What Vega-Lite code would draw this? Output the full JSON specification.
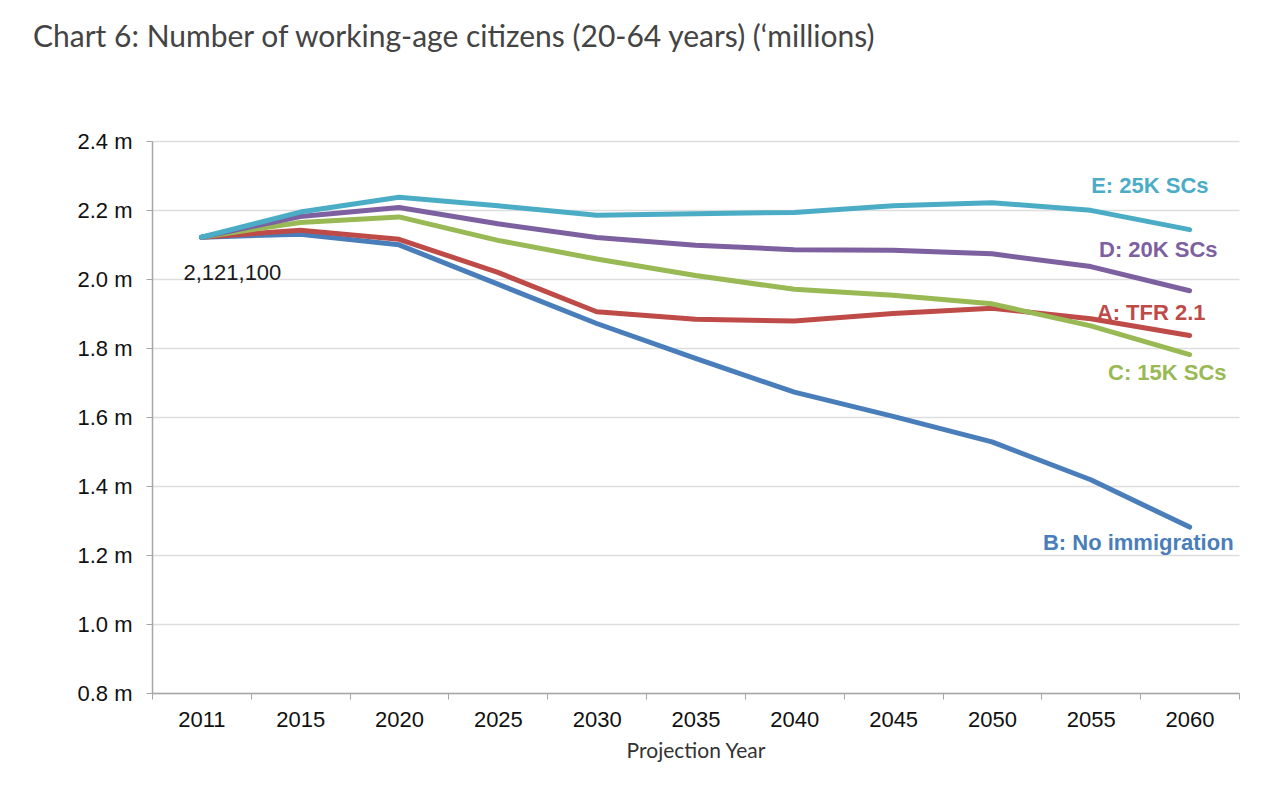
{
  "$schema": "https://vega.github.io/schema/vega-lite/v6.json",
  "width": 1087,
  "height": 552,
  "autosize": {"type": "none"},
  "padding": {"left": 152, "top": 141, "right": 40, "bottom": 97},
  "background": "white",
  "title": {
    "text": "Chart 6: Number of working-age citizens (20-64 years) (‘millions)",
    "font": "Lato",
    "fontSize": 30,
    "fontWeight": "normal",
    "color": "#444444",
    "anchor": "start",
    "frame": "group",
    "dx": -119,
    "baseline": "alphabetic",
    "offset": 53
  },
  "data": {
    "values": [
      {"year": "2011", "series": "B: No immigration", "value": 2121100},
      {"year": "2015", "series": "B: No immigration", "value": 2130000},
      {"year": "2020", "series": "B: No immigration", "value": 2099000},
      {"year": "2025", "series": "B: No immigration", "value": 1985000},
      {"year": "2030", "series": "B: No immigration", "value": 1871000},
      {"year": "2035", "series": "B: No immigration", "value": 1770000},
      {"year": "2040", "series": "B: No immigration", "value": 1672000},
      {"year": "2045", "series": "B: No immigration", "value": 1602000},
      {"year": "2050", "series": "B: No immigration", "value": 1528000},
      {"year": "2055", "series": "B: No immigration", "value": 1418000},
      {"year": "2060", "series": "B: No immigration", "value": 1281000},
      {"year": "2011", "series": "A: TFR 2.1", "value": 2121100},
      {"year": "2015", "series": "A: TFR 2.1", "value": 2141000},
      {"year": "2020", "series": "A: TFR 2.1", "value": 2115000},
      {"year": "2025", "series": "A: TFR 2.1", "value": 2019000},
      {"year": "2030", "series": "A: TFR 2.1", "value": 1905000},
      {"year": "2035", "series": "A: TFR 2.1", "value": 1883000},
      {"year": "2040", "series": "A: TFR 2.1", "value": 1878000},
      {"year": "2045", "series": "A: TFR 2.1", "value": 1900000},
      {"year": "2050", "series": "A: TFR 2.1", "value": 1915000},
      {"year": "2055", "series": "A: TFR 2.1", "value": 1885000},
      {"year": "2060", "series": "A: TFR 2.1", "value": 1836000},
      {"year": "2011", "series": "C: 15K SCs", "value": 2121100},
      {"year": "2015", "series": "C: 15K SCs", "value": 2164000},
      {"year": "2020", "series": "C: 15K SCs", "value": 2180000},
      {"year": "2025", "series": "C: 15K SCs", "value": 2112000},
      {"year": "2030", "series": "C: 15K SCs", "value": 2058000},
      {"year": "2035", "series": "C: 15K SCs", "value": 2010000},
      {"year": "2040", "series": "C: 15K SCs", "value": 1970000},
      {"year": "2045", "series": "C: 15K SCs", "value": 1953000},
      {"year": "2050", "series": "C: 15K SCs", "value": 1928000},
      {"year": "2055", "series": "C: 15K SCs", "value": 1864000},
      {"year": "2060", "series": "C: 15K SCs", "value": 1781000},
      {"year": "2011", "series": "D: 20K SCs", "value": 2121100},
      {"year": "2015", "series": "D: 20K SCs", "value": 2181000},
      {"year": "2020", "series": "D: 20K SCs", "value": 2207000},
      {"year": "2025", "series": "D: 20K SCs", "value": 2160000},
      {"year": "2030", "series": "D: 20K SCs", "value": 2120000},
      {"year": "2035", "series": "D: 20K SCs", "value": 2098000},
      {"year": "2040", "series": "D: 20K SCs", "value": 2085000},
      {"year": "2045", "series": "D: 20K SCs", "value": 2083000},
      {"year": "2050", "series": "D: 20K SCs", "value": 2073000},
      {"year": "2055", "series": "D: 20K SCs", "value": 2036000},
      {"year": "2060", "series": "D: 20K SCs", "value": 1966000},
      {"year": "2011", "series": "E: 25K SCs", "value": 2121100},
      {"year": "2015", "series": "E: 25K SCs", "value": 2194000},
      {"year": "2020", "series": "E: 25K SCs", "value": 2237000},
      {"year": "2025", "series": "E: 25K SCs", "value": 2212000},
      {"year": "2030", "series": "E: 25K SCs", "value": 2185000},
      {"year": "2035", "series": "E: 25K SCs", "value": 2189000},
      {"year": "2040", "series": "E: 25K SCs", "value": 2193000},
      {"year": "2045", "series": "E: 25K SCs", "value": 2212000},
      {"year": "2050", "series": "E: 25K SCs", "value": 2221000},
      {"year": "2055", "series": "E: 25K SCs", "value": 2199000},
      {"year": "2060", "series": "E: 25K SCs", "value": 2143000}
    ]
  },
  "encoding": {
    "x": {
      "field": "year",
      "type": "ordinal",
      "sort": null,
      "bandPosition": 0.5,
      "scale": {"type": "band", "paddingInner": 0, "paddingOuter": 0},
      "axis": {
        "title": "Projection Year",
        "titleFont": "Lato",
        "titleFontSize": 21,
        "titleFontWeight": "normal",
        "titleColor": "#333333",
        "titlePadding": 10,
        "labelAngle": 0,
        "labelFont": "Liberation Sans",
        "labelFontSize": 22,
        "labelColor": "#111111",
        "labelPadding": 10,
        "tickBand": "extent",
        "tickSize": 6,
        "tickColor": "#a6a6a6",
        "domainColor": "#a6a6a6",
        "domainWidth": 1.5,
        "grid": false
      }
    },
    "y": {
      "field": "value",
      "type": "quantitative",
      "scale": {"domain": [800000, 2400000], "nice": false, "zero": false},
      "axis": {
        "title": null,
        "values": [800000, 1000000, 1200000, 1400000, 1600000, 1800000, 2000000, 2200000, 2400000],
        "labelExpr": "format(datum.value / 1000000, '.1f') + ' m'",
        "labelFont": "Liberation Sans",
        "labelFontSize": 22,
        "labelColor": "#111111",
        "labelPadding": 14,
        "tickSize": 6,
        "tickColor": "#a6a6a6",
        "domainColor": "#a6a6a6",
        "domainWidth": 1.5,
        "grid": true,
        "gridColor": "#dddddd",
        "gridWidth": 1.5
      }
    },
    "color": {
      "field": "series",
      "type": "nominal",
      "scale": {
        "domain": ["B: No immigration", "A: TFR 2.1", "C: 15K SCs", "D: 20K SCs", "E: 25K SCs"],
        "range": ["#4a7ebb", "#be4b48", "#98b954", "#7d60a0", "#4bacc6"]
      },
      "legend": null
    }
  },
  "layer": [
    {
      "mark": {"type": "line", "strokeWidth": 5, "strokeCap": "round", "strokeJoin": "round"}
    },
    {
      "transform": [{"filter": "datum.year == '2011' && datum.series == 'E: 25K SCs'"}],
      "mark": {"type": "text", "font": "Liberation Sans", "fontSize": 22, "align": "center", "baseline": "alphabetic", "dx": 31, "dy": 43},
      "encoding": {
        "text": {"field": "value", "type": "quantitative", "format": ",.0f"},
        "color": {"value": "#1a1a1a"}
      }
    },
    {
      "transform": [{"filter": "datum.year == '2060' && datum.series == 'E: 25K SCs'"}],
      "mark": {"type": "text", "font": "Liberation Sans", "fontSize": 22, "fontWeight": "bold", "align": "right", "baseline": "alphabetic", "dx": 19, "dy": -37},
      "encoding": {"text": {"field": "series"}}
    },
    {
      "transform": [{"filter": "datum.year == '2060' && datum.series == 'D: 20K SCs'"}],
      "mark": {"type": "text", "font": "Liberation Sans", "fontSize": 22, "fontWeight": "bold", "align": "right", "baseline": "alphabetic", "dx": 28, "dy": -34},
      "encoding": {"text": {"field": "series"}}
    },
    {
      "transform": [{"filter": "datum.year == '2060' && datum.series == 'A: TFR 2.1'"}],
      "mark": {"type": "text", "font": "Liberation Sans", "fontSize": 22, "fontWeight": "bold", "align": "right", "baseline": "alphabetic", "dx": 16, "dy": -16},
      "encoding": {"text": {"field": "series"}}
    },
    {
      "transform": [{"filter": "datum.year == '2060' && datum.series == 'C: 15K SCs'"}],
      "mark": {"type": "text", "font": "Liberation Sans", "fontSize": 22, "fontWeight": "bold", "align": "right", "baseline": "alphabetic", "dx": 37, "dy": 25},
      "encoding": {"text": {"field": "series"}}
    },
    {
      "transform": [{"filter": "datum.year == '2060' && datum.series == 'B: No immigration'"}],
      "mark": {"type": "text", "font": "Liberation Sans", "fontSize": 22, "fontWeight": "bold", "align": "right", "baseline": "alphabetic", "dx": 44, "dy": 23},
      "encoding": {"text": {"field": "series"}}
    }
  ],
  "config": {
    "view": {"stroke": null}
  }
}
